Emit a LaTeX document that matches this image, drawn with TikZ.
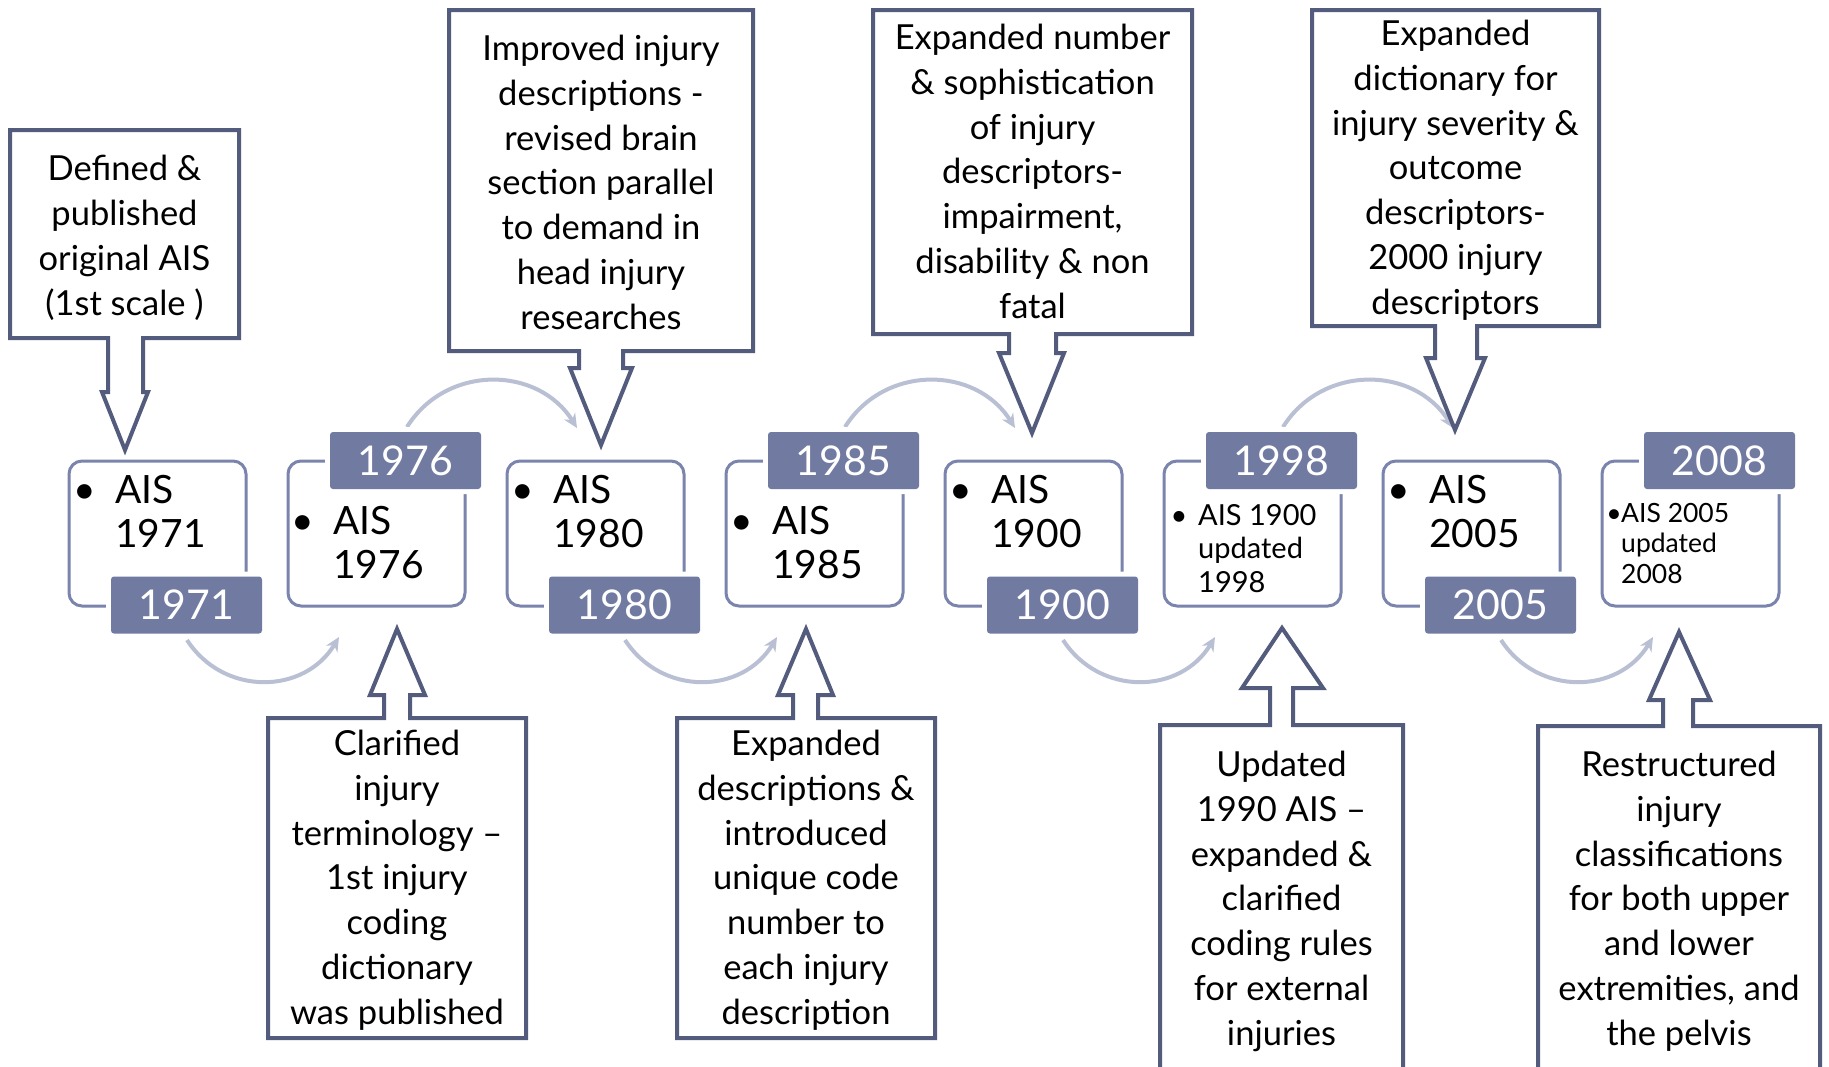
\documentclass[tikz,border=0pt]{standalone}
\usepackage{fontspec}
\setmainfont{Lato}
\usetikzlibrary{arrows.meta}
\definecolor{calc}{RGB}{84,92,126}
\definecolor{boxc}{RGB}{122,132,172}
\definecolor{labc}{RGB}{113,123,162}
\definecolor{arcc}{RGB}{186,192,212}
\tikzset{
 pbox/.style={draw=boxc, line width=3pt, rounded corners=13pt, minimum width=177pt, minimum height=145pt, inner sep=0pt, fill=white},
 yearlab/.style={fill=labc, rounded corners=3pt, minimum width=151pt, minimum height=57pt, inner sep=0pt, text=white, font=\fontsize{41}{41}\selectfont, preaction={draw=white, line width=10pt}},
 boxtxt/.style={anchor=base west, inner sep=0pt, align=left, font=\fontsize{39}{44}\selectfont},
 bul/.style={anchor=base, inner sep=0pt, font=\fontsize{39}{44}\selectfont},
 smalltxt/.style={anchor=base west, inner sep=0pt, align=left, font=\fontsize{29}{33.5}\selectfont},
 smallertxt/.style={anchor=base west, inner sep=0pt, align=left, font=\fontsize{26.5}{30.5}\selectfont},
 calltxt/.style={anchor=base, inner sep=0pt, align=center, font=\fontsize{34.5}{44.7}\selectfont},
 callshape/.style={draw=calc, fill=white, line width=4pt},
 tl/.style={draw=arcc, line width=4pt, -{Stealth[length=14pt,width=13pt]}},
}
\begin{document}
\begin{tikzpicture}[x=1pt,y=1pt]
\useasboundingbox (0,0) rectangle (1829,-1066);
\clip (0,0) rectangle (1829,-1066);
\fill[white] (0,0) rectangle (1829,-1066);

% connector end points
\coordinate (a12s) at (187,-640);  \coordinate (a12e) at (339,-637);
\coordinate (a23s) at (407,-427);  \coordinate (a23e) at (577,-428);
\coordinate (a34s) at (625,-640);  \coordinate (a34e) at (777,-637);
\coordinate (a45s) at (845,-427);  \coordinate (a45e) at (1015,-428);
\coordinate (a56s) at (1063,-640); \coordinate (a56e) at (1215,-637);
\coordinate (a67s) at (1283,-427); \coordinate (a67e) at (1453,-428);
\coordinate (a78s) at (1501,-640); \coordinate (a78e) at (1653,-637);

% curved timeline arrows
\draw[tl] (a12s) to[out=-57,in=-121,looseness=1.13] (a12e);
\draw[tl] (a23s) to[out=58,in=122,looseness=1.11] (a23e);
\draw[tl] (a34s) to[out=-57,in=-121,looseness=1.13] (a34e);
\draw[tl] (a45s) to[out=58,in=122,looseness=1.11] (a45e);
\draw[tl] (a56s) to[out=-57,in=-121,looseness=1.13] (a56e);
\draw[tl] (a67s) to[out=58,in=122,looseness=1.11] (a67e);
\draw[tl] (a78s) to[out=-57,in=-121,looseness=1.13] (a78e);

% process boxes
\node[pbox] (b1) at (157.5,-533.5) {};
\node[pbox] (b2) at (376.5,-533.5) {};
\node[pbox] (b3) at (595.5,-533.5) {};
\node[pbox] (b4) at (814.5,-533.5) {};
\node[pbox] (b5) at (1033.5,-533.5) {};
\node[pbox] (b6) at (1252.5,-533.5) {};
\node[pbox] (b7) at (1471.5,-533.5) {};
\node[pbox] (b8) at (1690.5,-533.5) {};

% box contents (text nodes anchored at the baseline of their last line)
\node[bul] (u1) at (85,-503) {•};
\node[boxtxt] (t1) at (115,-547) {AIS\\1971};
\node[bul] (u2) at (303,-534) {•};
\node[boxtxt] (t2) at (333,-578) {AIS\\1976};
\node[bul] (u3) at (523,-503) {•};
\node[boxtxt] (t3) at (553,-547) {AIS\\1980};
\node[bul] (u4) at (742,-534) {•};
\node[boxtxt] (t4) at (772,-578) {AIS\\1985};
\node[bul] (u5) at (961,-503) {•};
\node[boxtxt] (t5) at (991,-547) {AIS\\1900};
\node[anchor=base, inner sep=0pt, font=\fontsize{29}{33.5}\selectfont] (u6) at (1179,-525) {•};
\node[smalltxt] (t6) at (1198,-592) {AIS 1900\\updated\\1998};
\node[bul] (u7) at (1399,-503) {•};
\node[boxtxt] (t7) at (1429,-547) {AIS\\2005};
\node[anchor=base, inner sep=0pt, font=\fontsize{26.5}{30.5}\selectfont] (u8) at (1614,-522) {•};
\node[smallertxt] (t8) at (1621,-583) {AIS 2005\\updated\\2008};

% year labels
\node[yearlab] (l1) at (186.5,-605) {1971};
\node[yearlab] (l2) at (405.5,-460.5) {1976};
\node[yearlab] (l3) at (624.5,-605) {1980};
\node[yearlab] (l4) at (843.5,-460.5) {1985};
\node[yearlab] (l5) at (1062.5,-605) {1900};
\node[yearlab] (l6) at (1281.5,-460.5) {1998};
\node[yearlab] (l7) at (1500.5,-605) {2005};
\node[yearlab] (l8) at (1719.5,-460.5) {2008};

% callout shapes
\draw[callshape] (10,-130) -- (239,-130) -- (239,-338) -- (143,-338) -- (143,-392) -- (148,-392) -- (125,-450) -- (102,-392) -- (108,-392) -- (108,-338) -- (10,-338) -- cycle;
\draw[callshape] (449,-10) -- (753,-10) -- (753,-351) -- (623,-351) -- (623,-368) -- (632,-368) -- (601,-445) -- (570,-368) -- (579,-368) -- (579,-351) -- (449,-351) -- cycle;
\draw[callshape] (873,-10) -- (1192,-10) -- (1192,-334) -- (1056,-334) -- (1056,-353) -- (1064,-353) -- (1032,-433) -- (999,-353) -- (1009,-353) -- (1009,-334) -- (873,-334) -- cycle;
\draw[callshape] (1312,-10) -- (1599,-10) -- (1599,-326) -- (1477,-326) -- (1477,-358) -- (1485,-358) -- (1455,-430) -- (1426,-358) -- (1435,-358) -- (1435,-326) -- (1312,-326) -- cycle;
\draw[callshape] (268,-718) -- (384,-718) -- (384,-695) -- (370,-695) -- (397,-629) -- (425,-695) -- (410,-695) -- (410,-718) -- (526,-718) -- (526,-1038) -- (268,-1038) -- cycle;
\draw[callshape] (677,-718) -- (793,-718) -- (793,-695) -- (778,-695) -- (806,-629) -- (833,-695) -- (818,-695) -- (818,-718) -- (935,-718) -- (935,-1038) -- (677,-1038) -- cycle;
\draw[callshape] (1160,-725) -- (1270,-725) -- (1270,-688) -- (1242,-688) -- (1282,-628) -- (1323,-688) -- (1293,-688) -- (1293,-725) -- (1403,-725) -- (1403,-1090) -- (1160,-1090) -- cycle;
\draw[callshape] (1538,-726) -- (1663,-726) -- (1663,-700) -- (1649,-700) -- (1679,-632) -- (1710,-700) -- (1693,-700) -- (1693,-726) -- (1820,-726) -- (1820,-1090) -- (1538,-1090) -- cycle;

% callout texts (anchored at the baseline of their last line)
\node[calltxt] (c1) at (124.5,-315) {Defined \&\\published\\original AIS\\(1st scale )};
\node[calltxt] (c3) at (601,-329) {Improved injury\\descriptions -\\revised brain\\section parallel\\to demand in\\head injury\\researches};
\node[calltxt] (c5) at (1032.5,-318) {Expanded number\\\& sophistication\\of injury\\descriptors-\\impairment,\\disability \& non\\fatal};
\node[calltxt] (c7) at (1455.5,-314) {Expanded\\dictionary for\\injury severity \&\\outcome\\descriptors-\\2000 injury\\descriptors};
\node[calltxt] (c2) at (397,-1024) {Clarified\\injury\\terminology –\\1st injury\\coding\\dictionary\\was published};
\node[calltxt] (c4) at (806,-1024) {Expanded\\descriptions \&\\introduced\\unique code\\number to\\each injury\\description};
\node[calltxt] (c6) at (1281.5,-1045) {Updated\\1990 AIS –\\expanded \&\\clarified\\coding rules\\for external\\injuries};
\node[calltxt] (c8) at (1679,-1045) {Restructured\\injury\\classifications\\for both upper\\and lower\\extremities, and\\the pelvis};
\end{tikzpicture}
\end{document}
